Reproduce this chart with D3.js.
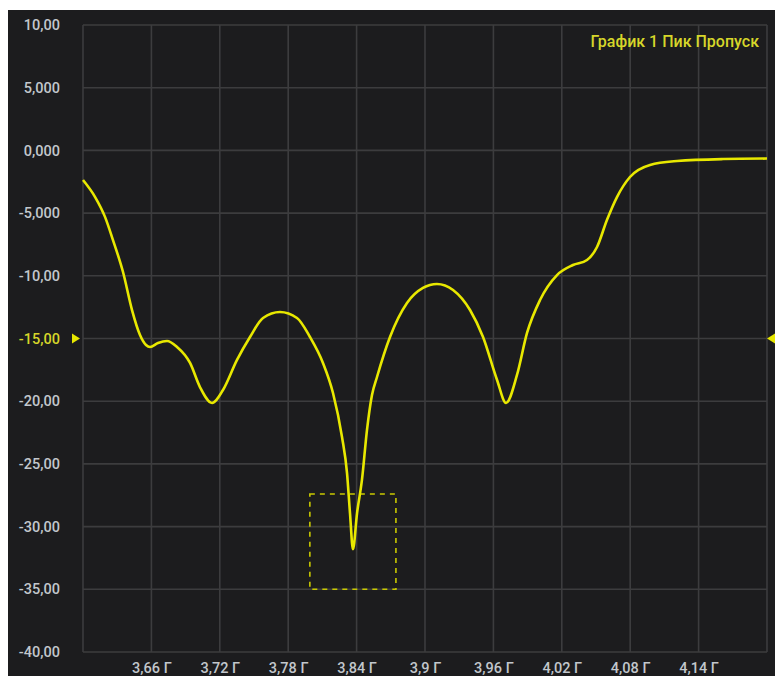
<!DOCTYPE html>
<html><head><meta charset="utf-8">
<script src="https://cdn.jsdelivr.net/npm/d3@7"></script>
<style>
html,body{margin:0;padding:0;background:#fff;}
svg{display:block;}
text{font-family:Roboto,"Noto Sans",sans-serif;}
</style></head>
<body>
<script>
// ---- data ----
const freqGHz = [3.6000,3.6105,3.6193,3.6263,3.6351,3.6430,3.6500,3.6553,3.6588,3.6658,3.6737,3.6825,3.6939,3.7026,3.7132,3.7228,3.7351,3.7465,3.7579,3.7728,3.7877,3.7991,3.8105,3.8193,3.8272,3.8316,3.8342,3.8368,3.8404,3.8447,3.8491,3.8535,3.8579,3.8693,3.8842,3.8982,3.9105,3.9246,3.9395,3.9509,3.9632,3.9711,3.9807,3.9895,4.0009,4.0158,4.0298,4.0421,4.0509,4.0596,4.0684,4.0798,4.0974,4.1211,4.1614,4.2000];
const gainDb  = [-2.36,-3.70,-5.30,-7.15,-9.70,-12.73,-14.72,-15.52,-15.68,-15.36,-15.20,-15.68,-16.95,-18.87,-20.14,-19.11,-16.71,-14.88,-13.37,-12.89,-13.37,-14.88,-16.95,-19.35,-22.85,-25.73,-28.92,-31.80,-28.92,-26.28,-22.30,-19.51,-18.07,-14.88,-12.17,-10.97,-10.65,-11.13,-12.73,-14.88,-18.31,-20.14,-17.91,-14.56,-11.93,-9.94,-9.14,-8.74,-7.70,-5.55,-3.72,-2.12,-1.16,-0.85,-0.69,-0.65];
const yTickValues = [10,5,0,-5,-10,-15,-20,-25,-30,-35,-40];
const yTickLabels = ["10,00","5,000","0,000","-5,000","-10,00","-15,00","-20,00","-25,00","-30,00","-35,00","-40,00"];
const xTickValues = [3.66,3.72,3.78,3.84,3.90,3.96,4.02,4.08,4.14];
const xTickLabels = ["3,66 Г","3,72 Г","3,78 Г","3,84 Г","3,9 Г","3,96 Г","4,02 Г","4,08 Г","4,14 Г"];
const xGrid = [3.60,3.66,3.72,3.78,3.84,3.90,3.96,4.02,4.08,4.14,4.20];
const refLevel = -15;
const markerBoxF = [3.799,3.8745];
const markerBoxDb = [-27.4,-35.0];
const title = "График 1 Пик Пропуск";

// ---- chart ----
const W = 775, H = 676;
const svg = d3.select("body").append("svg").attr("width",W).attr("height",H);
svg.append("rect").attr("x",8).attr("y",10).attr("width",W-8).attr("height",H-10).attr("fill","#1c1c1e");

const x = d3.scaleLinear().domain([3.6,4.2]).range([83,767]);
const y = d3.scaleLinear().domain([-40,10]).range([652,25]);

const grid = svg.append("g").attr("stroke","#3c3c3e").attr("stroke-width",1.6);
xGrid.forEach(v=>grid.append("line").attr("x1",x(v)).attr("x2",x(v)).attr("y1",y(10)).attr("y2",y(-40)));
yTickValues.forEach(v=>grid.append("line").attr("x1",x(3.6)).attr("x2",x(4.2)).attr("y1",y(v)).attr("y2",y(v)));

// y axis
const yAxis = d3.axisLeft(y).tickValues(yTickValues).tickSize(0).tickPadding(0)
  .tickFormat((d,i)=>yTickLabels[i]);
const gy = svg.append("g").attr("transform","translate(60,0)").call(yAxis);
gy.select(".domain").remove();
gy.selectAll("text").attr("font-size",14.5).attr("font-weight",500)
  .attr("fill",d=>d===refLevel?"#d6d62a":"#c2c7cc");

// x axis
const xAxis = d3.axisBottom(x).tickValues(xTickValues).tickSize(0).tickPadding(0)
  .tickFormat((d,i)=>xTickLabels[i]);
const gx = svg.append("g").attr("transform","translate(0,663)").call(xAxis);
gx.select(".domain").remove();
gx.selectAll("text").attr("font-size",14.5).attr("font-weight",500).attr("fill","#c2c7cc");

// reference markers
svg.append("path").attr("d",`M72,${y(refLevel)-5}L80,${y(refLevel)}L72,${y(refLevel)+5}Z`).attr("fill","#e6e600");
svg.append("path").attr("d",`M775,${y(refLevel)-5}L767,${y(refLevel)}L775,${y(refLevel)+5}Z`).attr("fill","#e6e600");

// marker box
svg.append("rect")
  .attr("x",x(markerBoxF[0])).attr("y",y(markerBoxDb[0]))
  .attr("width",x(markerBoxF[1])-x(markerBoxF[0])).attr("height",y(markerBoxDb[1])-y(markerBoxDb[0]))
  .attr("fill","none").attr("stroke","#c8c800").attr("stroke-width",1.6).attr("stroke-dasharray","5,5");

// trace
const data = freqGHz.map((f,i)=>({f,v:gainDb[i]}));
const line = d3.line().x(d=>x(d.f)).y(d=>y(d.v)).curve(d3.curveMonotoneX);
svg.append("path").datum(data).attr("d",line).attr("fill","none").attr("stroke","#e8e800").attr("stroke-width",2.6);

// title
svg.append("text").attr("x",759).attr("y",47).attr("text-anchor","end").attr("font-size",16).attr("font-weight",500)
  .attr("fill","#d6d62a").text(title);
</script>
</body></html>
